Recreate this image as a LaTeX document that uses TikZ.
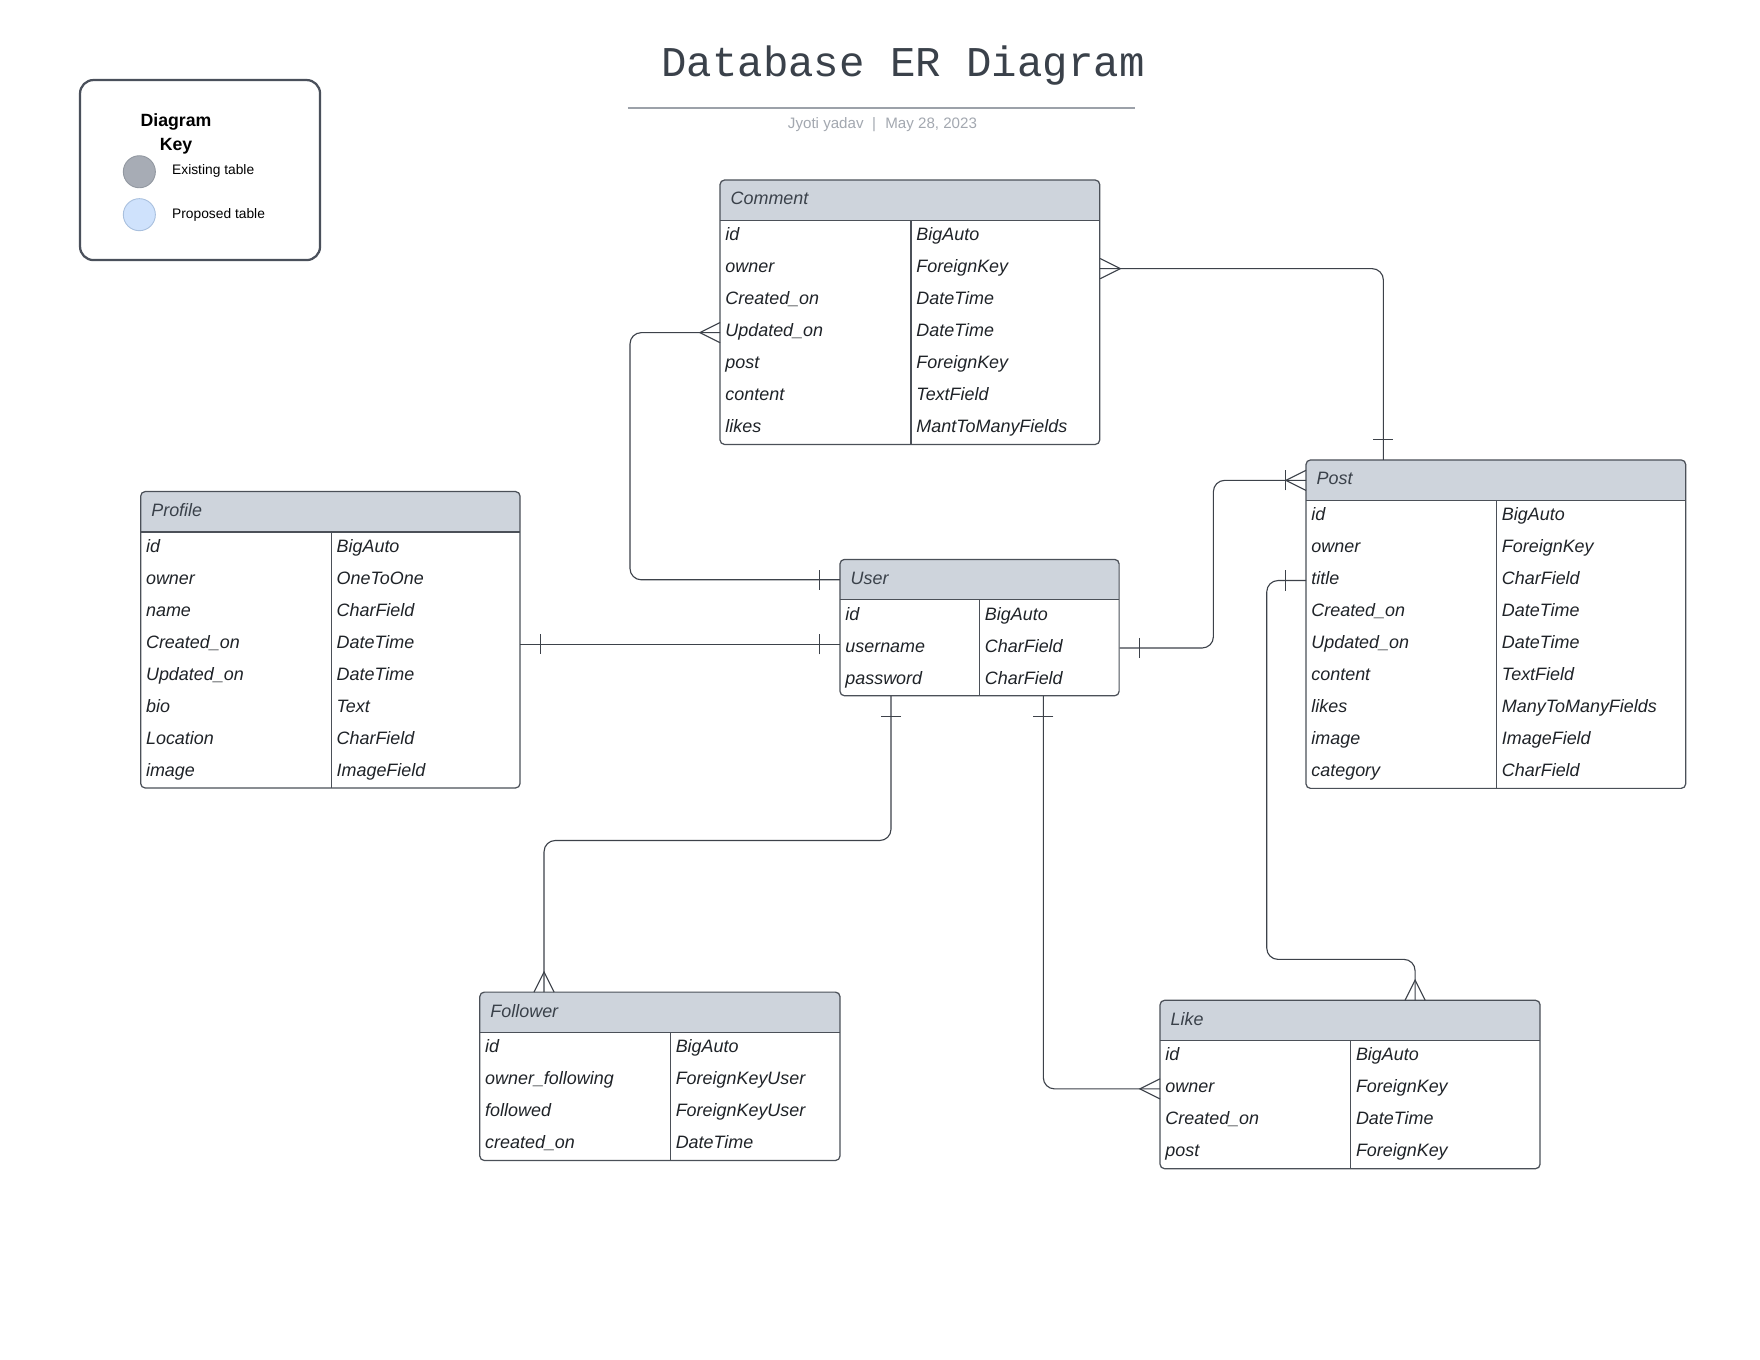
\documentclass[tikz,border=0pt]{standalone}
\usepackage{fontspec}
\setmainfont{Liberation Sans}
\newfontfamily\titlefont{Liberation Mono}
\usetikzlibrary{calc}
\definecolor{hdrfill}{HTML}{CED4DC}
\definecolor{tblline}{HTML}{4B5058}
\definecolor{connline}{HTML}{3D424A}
\definecolor{celltext}{HTML}{1F2328}
\definecolor{hdrtext}{HTML}{3A414A}
\definecolor{titlecol}{HTML}{3A414A}
\definecolor{subcol}{HTML}{A3A8B0}
\definecolor{rulecol}{HTML}{9CA1A9}
\definecolor{keyline}{HTML}{4A505B}
\definecolor{existfill}{HTML}{A7ACB5}
\definecolor{existline}{HTML}{9298A1}
\definecolor{propfill}{HTML}{CFE2FC}
\definecolor{propline}{HTML}{A9C0DE}
\tikzset{
  tblborder/.style={draw=tblline, line width=1.1pt},
  conn/.style={draw=connline, line width=1pt},
  rowbox/.style={inner sep=0pt, minimum height=28.55pt, draw=none},
  hdrbox/.style={inner sep=0pt, minimum height=36pt, draw=none},
  celltxt/.style={inner sep=0pt, anchor=base west, text=celltext, font=\fontsize{16}{19}\selectfont\itshape},
  hdrtxt/.style={inner sep=0pt, anchor=base west, text=hdrtext, font=\fontsize{16}{19}\selectfont\itshape},
  keytxt/.style={inner sep=0pt, anchor=base west, text=black, font=\fontsize{12.3}{15}\selectfont},
  keyhead/.style={inner sep=0pt, anchor=base, text=black, font=\fontsize{15.8}{19}\selectfont\bfseries},
}
% #1 name, #2 x, #3 y, #4 width, #5 first column width, #6 rows, #7 title, #8 rows list
\newcommand{\ertable}[8]{%
  \fill[hdrfill, rounded corners=4pt] (#2,#3) rectangle ({#2+#4},{#3+36});
  \fill[hdrfill] (#2,{#3+18}) rectangle ({#2+#4},{#3+36});
  \node[hdrbox, minimum width=#4pt, anchor=north west] (#1) at (#2,#3) {};
  \node[hdrtxt] (#1-title) at ($(#1.west)+(9.3,4.0)$) {#7};
  \foreach \fa/\fb [count=\i] in {#8} {
    \node[rowbox, minimum width=#4pt, anchor=north west] (#1-\i) at (#2,{#3+36+(\i-1)*28.55}) {};
    \node[celltxt] (#1-\i-f) at ($(#1-\i.west)+(4.6,3.6)$) {\fa};
    \node[celltxt] (#1-\i-t) at ($(#1-\i.west)+(#5+4.6,3.6)$) {\fb};
  }
  \draw[tblborder, rounded corners=4pt] (#2,#3) rectangle ({#2+#4},{#3+36+#6*28.55});
  \draw[tblborder] (#2,{#3+36}) -- ({#2+#4},{#3+36});
  \draw[tblborder] ({#2+#5},{#3+36}) -- ({#2+#5},{#3+36+#6*28.55});
}
% crow's foot: point, outward dx, dy
\newcommand{\crow}[3]{%
  \draw[conn] ($(#1)+({9*(#3)},{-9*(#2)})$) -- ($(#1)+({18*(#2)},{18*(#3)})$) -- ($(#1)+({-9*(#3)},{9*(#2)})$);}
% single bar: point, outward dx, dy
\newcommand{\onebar}[3]{%
  \draw[conn] ($(#1)+({18*(#2)+9*(#3)},{18*(#3)-9*(#2)})$) -- ($(#1)+({18*(#2)-9*(#3)},{18*(#3)+9*(#2)})$);}
\begin{document}
\begin{tikzpicture}[x=1pt,y=-1pt]
\useasboundingbox (0,0) rectangle (1570,1213);
\fill[white] (0,0) rectangle (1570,1213);

% title
\node[inner sep=0pt, anchor=base, text=titlecol, font=\titlefont\fontsize{37.8}{40}\selectfont] (title) at (805.5,68.4) {Database ER Diagram};
\coordinate (ruleL) at (560,96);
\coordinate (ruleR) at (1012.5,96);
\draw[rulecol, line width=1.6pt] (ruleL) -- (ruleR);
\node[inner sep=0pt, anchor=base, text=subcol, font=\fontsize{13.5}{16}\selectfont] (subtitle) at (787.2,114.6) {Jyoti yadav\hspace{7.6pt}|\hspace{8.2pt}May 28, 2023};

% legend
\draw[keyline, line width=2pt, rounded corners=12pt] (71.4,71.4) rectangle (285.5,232);
\node[keyhead] (key1) at (157,112.8) {Diagram};
\node[keyhead] (key2) at (157,134.2) {Key};
\node[circle, inner sep=0pt, minimum size=28.6pt, fill=existfill, draw=existline, line width=0.8pt] (exist) at (124.3,153.2) {};
\node[circle, inner sep=0pt, minimum size=28.6pt, fill=propfill, draw=propline, line width=0.8pt] (prop) at (124.3,191.5) {};
\node[keytxt] (existtxt) at (153.4,156) {Existing table};
\node[keytxt] (proptxt) at (153.4,194.6) {Proposed table};

% tables
\ertable{comment}{642.3}{160.6}{338.7}{170.4}{7}{Comment}{id/BigAuto, owner/ForeignKey, Created\_on/DateTime, Updated\_on/DateTime, post/ForeignKey, content/TextField, likes/MantToManyFields}
\ertable{profile}{125.5}{438.5}{338.4}{170}{8}{Profile}{id/BigAuto, owner/OneToOne, name/CharField, Created\_on/DateTime, Updated\_on/DateTime, bio/Text, Location/CharField, image/ImageField}
\ertable{user}{749.3}{499}{249}{124.5}{3}{User}{id/BigAuto, username/CharField, password/CharField}
\ertable{post}{1165}{410.3}{338.7}{170}{9}{Post}{id/BigAuto, owner/ForeignKey, title/CharField, Created\_on/DateTime, Updated\_on/DateTime, content/TextField, likes/ManyToManyFields, image/ImageField, category/CharField}
\ertable{follower}{428}{885}{321.3}{170}{4}{Follower}{id/BigAuto, owner\_following/ForeignKeyUser, followed/ForeignKeyUser, created\_on/DateTime}
\ertable{like}{1034.8}{892.3}{339}{170}{4}{Like}{id/BigAuto, owner/ForeignKey, Created\_on/DateTime, post/ForeignKey}

% Comment - Post
\coordinate (cpT) at ($(post.north west)+(69,0)$);
\draw[conn, rounded corners=10pt] (comment-2.east) -| (cpT);
\crow{comment-2.east}{1}{0}
\onebar{cpT}{0}{-1}

% Comment - User
\draw[conn, rounded corners=10pt] (comment-4.west) -- ++(-80.3,0) |- (user.west);
\crow{comment-4.west}{-1}{0}
\onebar{user.west}{-1}{0}

% Profile - User
\coordinate (puU) at (profile-4.east -| user.west);
\draw[conn] (profile-4.east) -- (puU);
\onebar{profile-4.east}{1}{0}
\onebar{puU}{-1}{0}

% User - Post
\draw[conn, rounded corners=10pt] (user-2.east) -- ++(83.7,0) |- (post.west);
\onebar{user-2.east}{1}{0}
\onebar{post.west}{-1}{0}
\crow{post.west}{-1}{0}

% User - Follower
\coordinate (ufA) at ($(user-3.south west)+(45.5,0)$);
\coordinate (ufB) at ($(follower.north west)+(57.3,0)$);
\draw[conn, rounded corners=10pt] (ufA) -- ++(0,128.7) -| (ufB);
\onebar{ufA}{0}{1}
\crow{ufB}{0}{-1}

% User - Like
\coordinate (ulA) at ($(user-3.south west)+(181.4,0)$);
\draw[conn, rounded corners=10pt] (ulA) |- (like-2.west);
\onebar{ulA}{0}{1}
\crow{like-2.west}{-1}{0}

% Post - Like
\coordinate (plB) at ($(like.north west)+(227.5,0)$);
\draw[conn, rounded corners=10pt] (post-3.west) -- ++(-35,0) |- ($(plB)+(0,-36.5)$) -- (plB);
\onebar{post-3.west}{-1}{0}
\crow{plB}{0}{-1}
\end{tikzpicture}
\end{document}
